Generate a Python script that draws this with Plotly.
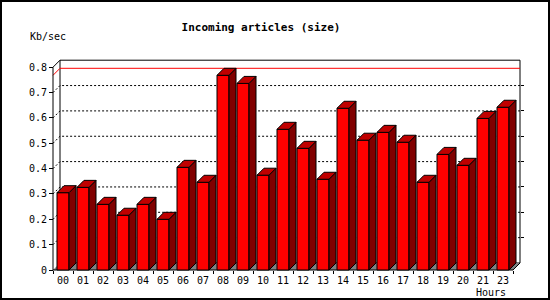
import plotly.graph_objects as go

# ---- data ----
hours = ["00", "01", "02", "03", "04", "05", "06", "07", "08", "09", "10", "11",
         "12", "13", "14", "15", "16", "17", "18", "19", "20", "21", "23"]
kb_per_sec = [0.305, 0.326, 0.259, 0.216, 0.259, 0.200, 0.405, 0.346, 0.768, 0.736,
              0.374, 0.555, 0.480, 0.358, 0.638, 0.512, 0.543, 0.504, 0.346, 0.456,
              0.413, 0.598, 0.642]
y_tick_vals = [0, 0.1, 0.2, 0.3, 0.4, 0.5, 0.6, 0.7, 0.8]
y_tick_text = ["0", "0.1", "0.2", "0.3", "0.4", "0.5", "0.6", "0.7", "0.8"]
grid_vals = [0.1, 0.2, 0.3, 0.4, 0.5, 0.6, 0.7]
chart_title = "Incoming articles (size)"
y_title = "Kb/sec"
x_title = "Hours"

# ---- geometry ----
W, H = 550, 300
L, R, T, B = 52, 29, 58, 27
PX_PER_CAT = 20.0
PX_PER_UNIT = 253.5
Y0_PX = 270
n = len(hours)
xmin = -0.55
xmax = xmin + (W - L - R) / PX_PER_CAT
ymin = -(H - B - Y0_PX) / PX_PER_UNIT
ymax = (Y0_PX - T) / PX_PER_UNIT
dx = 7 / PX_PER_CAT
dy = 7 / PX_PER_UNIT
bw = 0.6
ytop = y_tick_vals[-1]
x_left = -0.5
x_right = n - 0.5
vmax = max(kb_per_sec)
pw = W - L - R
ph = H - T - B


def px_x(px):
    return (px - L) / pw


def px_y(py):
    return (H - B - py) / ph


FONT = "DejaVu Sans Mono"

fig = go.Figure()

# front faces
fig.add_trace(go.Bar(
    x=list(range(n)), y=kb_per_sec, width=bw,
    marker=dict(color="#FF0000", line=dict(color="black", width=1)),
    hoverinfo="skip", showlegend=False,
))

# side and top faces
sx, sy = [], []
tx, ty = [], []
for i, v in enumerate(kb_per_sec):
    a = i + bw / 2
    sx += [a, a + dx, a + dx, a, a, None]
    sy += [0, dy, v + dy, v, 0, None]
    b0 = i - bw / 2
    tx += [b0, b0 + dx, a + dx, a, b0, None]
    ty += [v, v + dy, v + dy, v, v, None]
fig.add_trace(go.Scatter(x=sx, y=sy, mode="lines", fill="toself", fillcolor="#800000",
                         line=dict(color="black", width=1), hoverinfo="skip", showlegend=False))
fig.add_trace(go.Scatter(x=tx, y=ty, mode="lines", fill="toself", fillcolor="#C00000",
                         line=dict(color="black", width=1), hoverinfo="skip", showlegend=False))
# dummy trace for overlay axes
fig.add_trace(go.Scatter(x=[], y=[], xaxis="x2", yaxis="y2", hoverinfo="skip", showlegend=False))

shapes = []
# back plane
shapes.append(dict(type="rect", xref="x", yref="y", x0=x_left + dx, y0=dy, x1=x_right + dx, y1=ytop + dy,
                   fillcolor="white", line=dict(color="black", width=1), layer="below"))
# floor
shapes.append(dict(type="path", xref="x", yref="y",
                   path=f"M {x_left},0 L {x_right},0 L {x_right + dx},{dy} L {x_left + dx},{dy} Z",
                   fillcolor="#808080", line=dict(width=0), layer="below"))
# dotted grid lines (left wall + back wall)
for v in grid_vals:
    shapes.append(dict(type="path", xref="x", yref="y",
                       path=f"M {x_left},{v} L {x_left + dx},{v + dy} L {x_right + dx},{v + dy}",
                       line=dict(color="black", width=1, dash="2px,2px"), layer="below"))
# max line
shapes.append(dict(type="path", xref="x", yref="y",
                   path=f"M {x_left},{vmax} L {x_left + dx},{vmax + dy} L {x_right + dx},{vmax + dy}",
                   line=dict(color="#FF0000", width=1), layer="below"))
# front left axis + top diagonal
shapes.append(dict(type="path", xref="x", yref="y",
                   path=f"M {x_left},0 L {x_left},{ytop} L {x_left + dx},{ytop + dy}",
                   line=dict(color="black", width=1), layer="below"))
# front bottom axis + right diagonal
shapes.append(dict(type="path", xref="x", yref="y",
                   path=f"M {x_left},0 L {x_right},0 L {x_right + dx},{dy}",
                   line=dict(color="black", width=1), layer="below"))
# outer border
shapes.append(dict(type="rect", xref="paper", yref="paper",
                   x0=px_x(1), x1=px_x(549), y0=px_y(299), y1=px_y(1),
                   line=dict(color="black", width=2), layer="above"))

tick_font = dict(family=FONT, size=10, color="black")
xpos = px_y(Y0_PX)

fig.update_layout(
    width=W, height=H,
    margin=dict(l=L, r=R, t=T, b=B, pad=0),
    paper_bgcolor="white", plot_bgcolor="white",
    showlegend=False, hovermode=False,
    title=dict(text=f"<b>{chart_title}</b>", x=261 / W, y=1 - 27 / H, xref="container", yref="container",
               xanchor="center", yanchor="middle", font=dict(family=FONT, size=11, color="black")),
    xaxis=dict(range=[xmin, xmax], anchor="free", position=xpos, showgrid=False, zeroline=False,
               showline=False, tickmode="array", tickvals=[i - 0.5 for i in range(n + 1)],
               showticklabels=False, ticks="outside", ticklen=3, tickcolor="black", tickwidth=1),
    xaxis2=dict(range=[xmin, xmax], overlaying="x", anchor="free", position=xpos, side="bottom",
                showgrid=False, zeroline=False, showline=False, tickmode="array",
                tickvals=list(range(n)), ticktext=hours, ticks="", tickfont=tick_font,
                ticklabelstandoff=3),
    yaxis=dict(range=[ymin, ymax], anchor="free", position=px_x(53), showgrid=False, zeroline=False,
               showline=False, tickmode="array", tickvals=y_tick_vals, ticktext=y_tick_text,
               ticks="outside", ticklen=4, tickcolor="black", tickwidth=1, tickfont=tick_font),
    yaxis2=dict(range=[ymin - dy, ymax - dy], overlaying="y", anchor="free", position=px_x(520),
                side="right", showgrid=False, zeroline=False, showline=False, tickmode="array",
                tickvals=grid_vals, showticklabels=False, ticks="outside", ticklen=3,
                tickcolor="black", tickwidth=1),
    shapes=shapes,
    annotations=[
        dict(text=y_title, xref="paper", yref="paper", x=px_x(28), y=px_y(37), xanchor="left",
             yanchor="middle", showarrow=False, font=dict(family=FONT, size=10, color="black")),
        dict(text=x_title, xref="paper", yref="paper", x=px_x(508), y=px_y(292), xanchor="right",
             yanchor="middle", showarrow=False, font=dict(family=FONT, size=10, color="black")),
    ],
)

fig.write_html("out.html")
